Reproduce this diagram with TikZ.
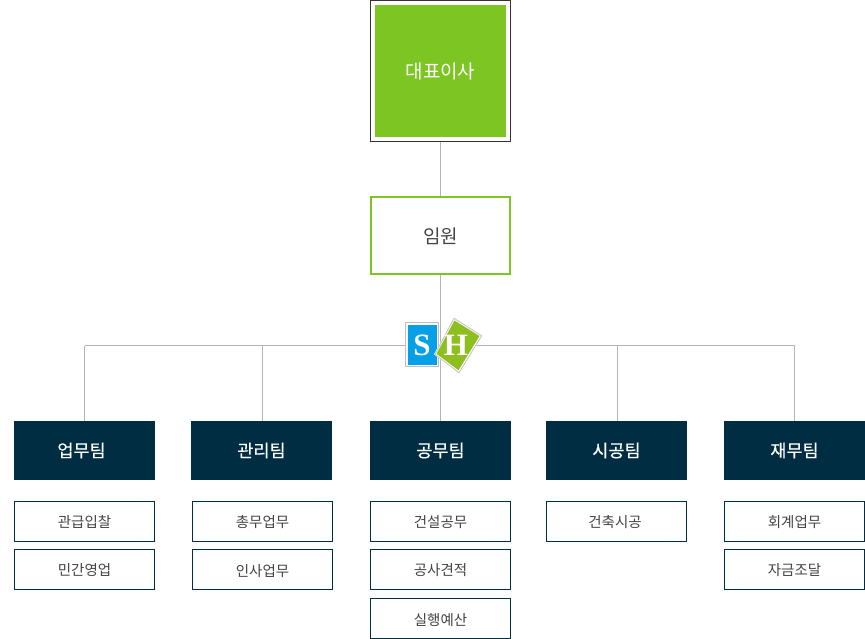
\documentclass[tikz,border=0pt]{standalone}
\usepackage{fontspec}
\setmainfont{Noto Sans CJK KR}
\newfontfamily\teamfont[FakeBold=0.3]{Noto Sans CJK KR}
\newfontfamily\logofont{Liberation Serif}
\definecolor{leaf}{HTML}{7CC522}
\definecolor{navy}{HTML}{012D43}
\definecolor{wire}{HTML}{B4B4B4}
\definecolor{inkgrey}{HTML}{444444}
\definecolor{skyb}{HTML}{06A0E8}
\definecolor{logog}{HTML}{8EBF1E}
\tikzset{x=1pt,y=-1pt,
 ceo/.style={draw=black!80,line width=1pt,fill=white,minimum width=140pt,minimum height=141pt,inner sep=0pt},
 ceoin/.style={fill=leaf,minimum width=131pt,minimum height=132pt,inner sep=0pt,text=white,font=\fontsize{19}{21}\selectfont},
 exec/.style={draw=leaf,line width=2pt,fill=white,minimum width=138.5pt,minimum height=76.5pt,inner sep=0pt,text=inkgrey,text height=18pt,text depth=2pt,font=\fontsize{19}{21}\selectfont},
 team/.style={fill=navy,minimum width=141pt,minimum height=59pt,inner sep=0pt,text=white,font=\teamfont\fontsize{17.5}{19}\selectfont},
 duty/.style={draw=navy,line width=1pt,fill=white,minimum width=140pt,minimum height=40pt,inner sep=0pt,text=inkgrey,text height=14pt,text depth=2pt,font=\fontsize{14.5}{16}\selectfont},
 wireline/.style={draw=wire,line width=1pt},
 logoframe/.style={draw=black!25,line width=.8pt,fill=white},
 logotext/.style={text=white,inner sep=0pt,font=\logofont\bfseries\fontsize{31}{31}\selectfont}}
\begin{document}
\begin{tikzpicture}
\useasboundingbox (0,0) rectangle (865,639);
% nodes
\node[ceo] (ceoframe) at (440.5,71) {};
\node[ceoin] (ceo) at (440.5,71) {대표이사};
\node[exec] (exec) at (440.5,235.5) {임원};
\coordinate (hub) at (440.5,345.5);
\coordinate (j1) at (84.5,345.5);
\coordinate (j2) at (262.5,345.5);
\coordinate (j4) at (617.5,345.5);
\coordinate (j5) at (794.5,345.5);
\node[team] (t1) at (84.5,450.5) {업무팀\kern6pt};
\node[team] (t2) at (261.5,450.5) {관리팀};
\node[team] (t3) at (440.5,450.5) {공무팀};
\node[team] (t4) at (616.5,450.5) {시공팀};
\node[team] (t5) at (794.5,450.5) {재무팀};
% connectors
\draw[wireline] (ceoframe.south) -- (exec.north);
\draw[wireline] (exec.south) -- (t3.north);
\draw[wireline] (j1) -- (j5);
\draw[wireline] (j1) -- (j1|-t1.north);
\draw[wireline] (j2) -- (j2|-t2.north);
\draw[wireline] (j4) -- (j4|-t4.north);
\draw[wireline] (j5) -- (j5|-t5.north);
% duties
\node[duty] (d11) at (84.5,521.5) {관급입찰};
\node[duty] (d12) at (84.5,569.5) {민간영업};
\node[duty] (d21) at (262.5,521.5) {총무업무};
\node[duty,text height=16pt] (d22) at (262.5,569.5) {인사업무};
\node[duty] (d31) at (440.5,521.5) {건설공무};
\node[duty] (d32) at (440.5,569.5) {공사견적};
\node[duty,text height=16pt] (d33) at (440.5,618.5) {실행예산};
\node[duty] (d41) at (616.5,521.5) {건축시공\kern3pt};
\node[duty] (d51) at (794.5,521.5) {회계업무};
\node[duty] (d52) at (794.5,569.5) {자금조달};
% logo
\draw[logoframe] (405.5,322.5) rectangle (438.5,366.5);
\fill[skyb] (407.5,324.5) rectangle (437,364.5);
\node[logotext] (logos) at (422,345.5) {S};
\fill[white] (454,317.5) -- (482.5,335.7) -- (459,373.5) -- (434,354.3) -- cycle;
\draw[black!25,line width=.8pt,line join=round] (454,318.3) -- (481.7,335.7) -- (459,372.7) -- (435,354.3) -- cycle;
\fill[logog] (454.5,320.5) -- (479.5,336) -- (458.5,370.3) -- (436.5,353.8) -- cycle;
\node[logotext] (logoh) at (456,345.5) {H};
\end{tikzpicture}
\end{document}
